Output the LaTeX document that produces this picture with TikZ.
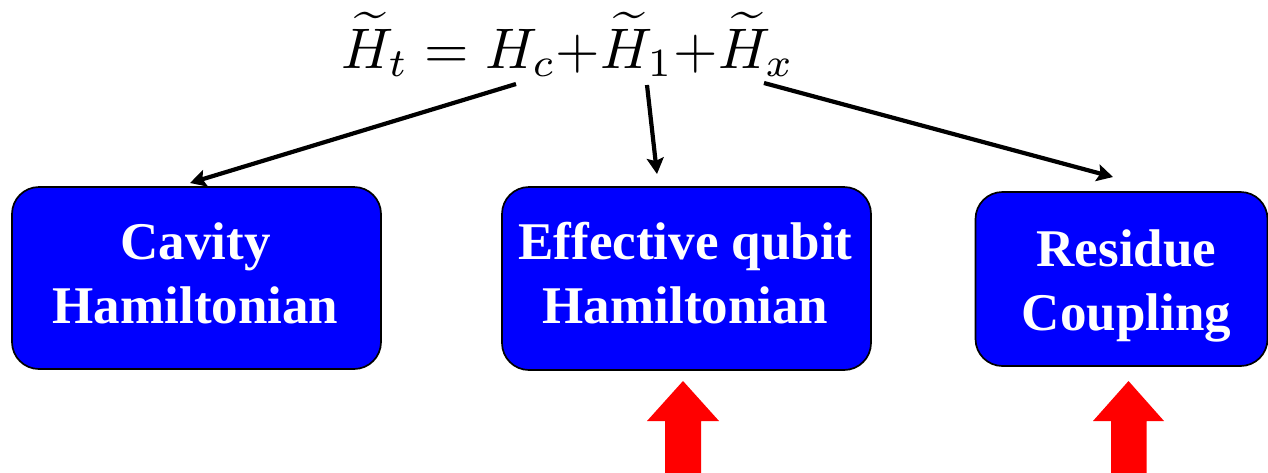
\documentclass[tikz,border=0pt]{standalone}
\usepackage[no-math]{fontspec}
\newfontfamily\boxfont{Liberation Serif}
\usetikzlibrary{arrows.meta,calc}
\definecolor{boxblue}{RGB}{0,0,255}
\definecolor{arrowred}{RGB}{255,0,0}
\tikzset{
  hbox/.style={draw=black, line width=0.85pt, fill=boxblue, rounded corners=13.5pt,
    inner sep=0pt},
  boxtext/.style={text=white, font=\boxfont\bfseries\fontsize{26.5}{32}\selectfont,
    align=center, inner sep=0pt},
  link/.style={line width=2.1pt, -{Stealth[length=8pt,width=8.5pt,inset=1.5pt]}},
  uparrow/.style={fill=arrowred}
}
\begin{document}
\begin{tikzpicture}[x=0.5pt,y=-0.5pt]
\useasboundingbox (0,0) rectangle (1268,472);
% formula
\node[anchor=base west, inner sep=0pt, scale=2.86] (eq) at (340,68)
  {$\widetilde{H}_t = H_c{+}\widetilde{H}_1{+}\widetilde{H}_x$};
% boxes
\node[hbox, minimum width=184.5pt, minimum height=91pt] (cav) at (196.5,278) {};
\node[hbox, minimum width=184.5pt, minimum height=91.5pt] (eff) at (686.5,278.5) {};
\node[hbox, minimum width=146pt, minimum height=87pt] (res) at (1121.5,279) {};
% box texts
\node[boxtext] (cavt) at ($(cav.center)+(-1,-5)$) {Cavity\\Hamiltonian};
\node[boxtext] (efft) at ($(eff.center)+(-1,-5.5)$) {Effective qubit\\Hamiltonian};
\node[boxtext] (rest) at ($(res.center)+(5,7)$) {Residue\\Coupling};
% connector ends
\coordinate (s1) at (516,84);
\coordinate (e1) at (190,183);
\coordinate (s2) at (647,85);
\coordinate (e2) at (657,174);
\coordinate (s3) at (764,83);
\coordinate (e3) at (1113,177);
\draw[link] (s1) -- (e1);
\draw[link] (s2) -- (e2);
\draw[link] (s3) -- (e3);
% red block arrows
\fill[uparrow] (683,381) -- (719,421) -- (701,421) -- (701,473) -- (665,473)
  -- (665,421) -- (647,421) -- cycle;
\fill[uparrow] (1128.5,381) -- (1164,421) -- (1146.5,421) -- (1146.5,473)
  -- (1111,473) -- (1111,421) -- (1093,421) -- cycle;
\end{tikzpicture}
\end{document}
